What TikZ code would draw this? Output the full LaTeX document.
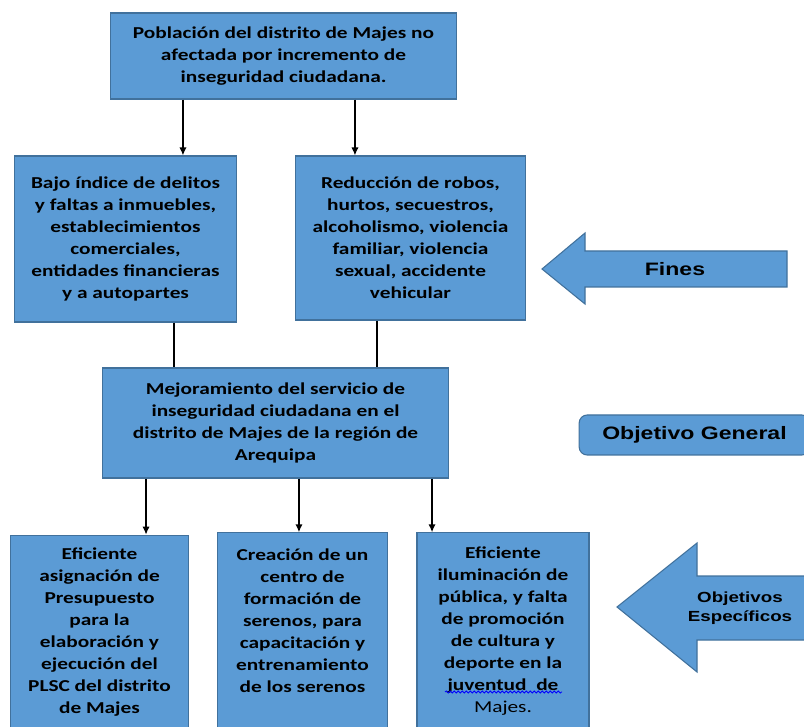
\documentclass[tikz,border=0pt]{standalone}
\usepackage{fontspec}
\setmainfont{Carlito}[FakeStretch=1.28]
\newfontfamily\arialfont{Liberation Sans}[FakeStretch=1.28]
\usetikzlibrary{arrows.meta,decorations.pathmorphing}
\definecolor{boxblue}{HTML}{5B9BD5}
\definecolor{boxline}{HTML}{41719C}

\begin{document}
\begin{tikzpicture}[x=0.75pt,y=-0.75pt,
  box/.style={draw=boxline,fill=boxblue,line width=0.8pt,align=center,inner sep=2pt,
    font=\bfseries\fontsize{12.5}{16.5}\selectfont},
  arr/.style={-{Latex[length=6pt,width=5.5pt]},line width=1.1pt},
  blockarr/.style={draw=boxline,fill=boxblue,line width=0.8pt},
  lbl/.style={align=center,font=\arialfont\bfseries\fontsize{13.5}{14}\selectfont}]
\useasboundingbox (0,0) rectangle (804,727);
\clip (0,0) rectangle (804,727);

\node[box,minimum width=260pt,minimum height=64.5pt] (F0) at (283.5,56)
  {Población del distrito de Majes no\\ afectada por incremento de\\ inseguridad ciudadana.};
\node[box,minimum width=167pt,minimum height=124.5pt] (F1) at (125.5,239)
  {Bajo índice de delitos\\ y faltas a inmuebles,\\ establecimientos\\ comerciales,\\ entidades financieras\\ y a autopartes};
\node[box,minimum width=172pt,minimum height=123pt] (F2) at (410.5,238)
  {Reducción de robos,\\ hurtos, secuestros,\\ alcoholismo, violencia\\ familiar, violencia\\ sexual, accidente\\ vehicular};
\node[box,minimum width=260pt,minimum height=82.5pt] (G0) at (275.5,423)
  {Mejoramiento del servicio de\\ inseguridad ciudadana en el\\ distrito de Majes de la región de\\ Arequipa};

\node[box,minimum width=134pt,minimum height=146pt] (E1) at (99.5,632.5)
  {Eficiente\\ asignación de\\ Presupuesto\\ para la\\ elaboración y\\ ejecución del\\ PLSC del distrito\\ de Majes};
\node[box,minimum width=127pt,minimum height=148pt] (E2) at (302.5,631.5)
  {Creación de un\\ centro de\\ formación de\\ serenos, para\\ capacitación y\\ entrenamiento\\ de los serenos\\ ~};
\node[box,minimum width=129pt,minimum height=148pt] (E3) at (503,631.5)
  {Eficiente\\ iluminación de\\ pública, y falta\\ de promoción\\ de cultura y\\ deporte en la\\ juventud\ \ de\\ {\mdseries Majes.}};
\draw[blue,line width=0.6pt,decorate,decoration={snake,amplitude=0.8pt,segment length=3pt}]
  (445,692) -- (562,692);

% side labels
\draw[blockarr] (542,269) -- (585,233) -- (585,251) -- (787,251) -- (787,287) -- (585,287) -- (585,304) -- cycle;
\node[lbl] (A1) at (675,269) {Fines};
\node[draw=boxline,fill=boxblue,line width=0.8pt,rounded corners=6pt,
  minimum width=173pt,minimum height=30pt,lbl] (A2) at (694.5,435) {Objetivo General};
\draw[blockarr] (617,607) -- (697,543) -- (697,576) -- (830,576) -- (830,640) -- (697,640) -- (697,672) -- cycle;
\node[lbl,font=\arialfont\bfseries\fontsize{11}{14.2}\selectfont] (A3) at (740,608) {Objetivos\\ Específicos};

\path[arr] ([xshift=-75.4pt]F0.south) edge ([xshift=-75.4pt]F0.south |- F1.north)
  ([xshift=53.6pt]F0.south) edge ([xshift=53.6pt]F0.south |- F2.north);
\path[line width=1.1pt] ([xshift=36.4pt]F1.south) edge ([xshift=36.4pt]F1.south |- G0.north)
  ([xshift=-25.1pt]F2.south) edge ([xshift=-25.1pt]F2.south |- G0.north);
\path[arr] ([xshift=-97.1pt]G0.south) edge ([xshift=-97.1pt]G0.south |- E1.north)
  ([xshift=17.6pt]G0.south) edge ([xshift=17.6pt]G0.south |- E2.north)
  ([xshift=117.4pt]G0.south) edge ([xshift=117.4pt]G0.south |- E3.north);
\end{tikzpicture}
\end{document}
